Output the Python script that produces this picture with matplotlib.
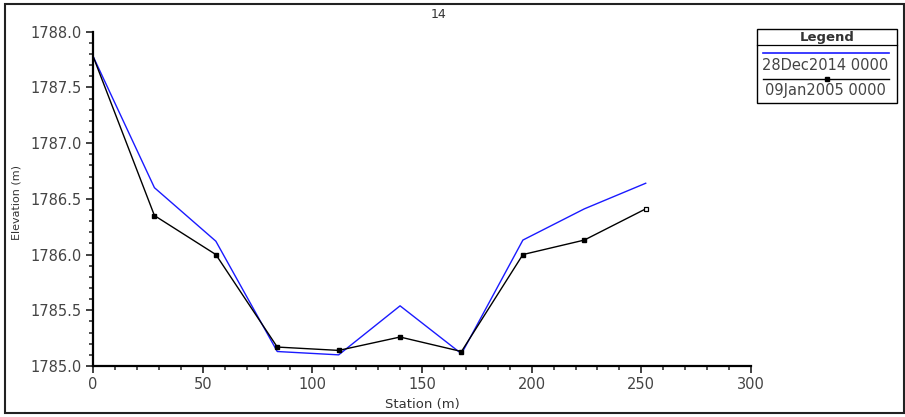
import matplotlib

matplotlib.use("Agg")
import matplotlib.pyplot as plt
from matplotlib.lines import Line2D
from matplotlib.patches import Rectangle
from matplotlib.ticker import MultipleLocator

plt.rcParams["font.family"] = ["DejaVu Sans"]

# cross-section 14, station (m) vs elevation (m)
station = [0, 28, 56, 84, 112, 140, 168, 196, 224, 252]
elev_2014 = [1787.78, 1786.60, 1786.12, 1785.13, 1785.10, 1785.54, 1785.11, 1786.13, 1786.41, 1786.64]
elev_2005 = [1787.78, 1786.35, 1786.00, 1785.17, 1785.14, 1785.26, 1785.13, 1786.00, 1786.13, 1786.41]
labels = ["28Dec2014 0000", "09Jan2005 0000"]

fig = plt.figure(figsize=(9.05, 4.17), dpi=100)
ax = fig.add_axes([0.1028, 0.1223, 0.7270, 0.8017])

ax.plot(station, elev_2014, color="#1a1aff", lw=1.0)
ax.plot(station, elev_2005, color="black", lw=1.0, marker="s", ms=3,
        markevery=list(range(1, len(station) - 1)))
ax.plot(station[-1:], elev_2005[-1:], ls="none", marker="s", ms=3.5,
        mfc="white", mec="black", mew=0.9)

ax.set_xlim(0, 300)
ax.set_ylim(1785.0, 1788.0)
ax.xaxis.set_major_locator(MultipleLocator(50))
ax.xaxis.set_minor_locator(MultipleLocator(10))
ax.yaxis.set_major_locator(MultipleLocator(0.5))
ax.yaxis.set_minor_locator(MultipleLocator(0.1))
ax.yaxis.set_major_formatter(lambda v, p: f"{v:.1f}")
for s in ("top", "right"):
    ax.spines[s].set_visible(False)
for s in ("left", "bottom"):
    ax.spines[s].set_linewidth(1.6)
ax.tick_params(which="major", length=5, width=1.3, labelsize=10.5, colors="#333333",
               labelcolor="#444444", pad=3)
ax.tick_params(which="minor", length=3, width=1.2, colors="#333333")
ax.set_xlabel("Station (m)", fontsize=9.5, color="#333333", labelpad=4)
ax.set_ylabel("Elevation (m)", fontsize=8, color="#333333")
ax.yaxis.set_label_coords(-0.108, 0.49)

fig.text(439 / 905, 1 - 14 / 417, "14", ha="center", va="center",
         fontsize=9, color="#333333")

# outer frame
fig.add_artist(Rectangle((5 / 905, 4 / 417), 899 / 905, 409 / 417,
                         transform=fig.transFigure, fill=False,
                         ec="#222222", lw=1.5))


# legend box drawn by hand (pixel coords -> figure coords)
def fx(px):
    return px / 905


def fy(py):
    return 1 - py / 417


fig.add_artist(Rectangle((fx(757), fy(103)), fx(897) - fx(757), fy(29) - fy(103),
                         transform=fig.transFigure, fill=False, ec="black", lw=1.0))
fig.add_artist(Line2D([fx(757), fx(897)], [fy(45), fy(45)],
                      transform=fig.transFigure, color="black", lw=0.9))
fig.text(fx(827), fy(37), "Legend", ha="center", va="center",
         fontsize=9.5, fontweight="bold", color="#333333")
fig.add_artist(Line2D([fx(763), fx(889)], [fy(53), fy(53)],
                      transform=fig.transFigure, color="#1a1aff", lw=1.2))
fig.text(fx(825), fy(65), labels[0], ha="center", va="center",
         fontsize=10.5, color="#444444")
fig.add_artist(Line2D([fx(763), fx(889)], [fy(79), fy(79)],
                      transform=fig.transFigure, color="black", lw=1.0))
fig.add_artist(Line2D([fx(827)], [fy(79)], transform=fig.transFigure,
                      ls="none", marker="s", ms=3, color="black"))
fig.text(fx(825), fy(91), labels[1], ha="center", va="center",
         fontsize=10.5, color="#444444")

fig.savefig("out.png", dpi=100)
